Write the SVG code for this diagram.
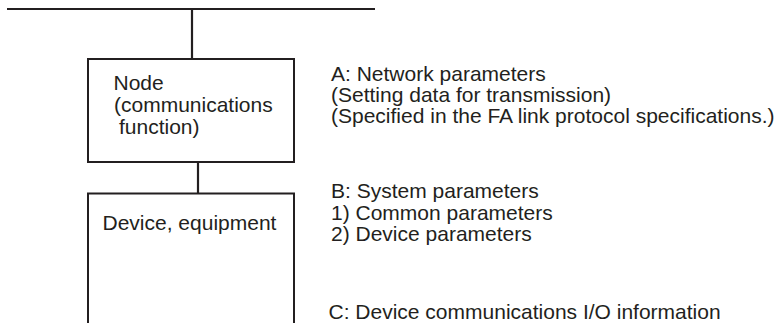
<svg xmlns="http://www.w3.org/2000/svg" width="781" height="323" viewBox="0 0 781 323">
  <style>
    .box { fill: #ffffff; stroke: #231f20; stroke-width: 2; }
    .wire { fill: none; stroke: #231f20; stroke-width: 2.2; }
    text { font-family: "Liberation Sans", Arial, sans-serif; font-size: 21px; fill: #231f20; }
  </style>
  <rect width="781" height="323" fill="#ffffff"/>
  <g id="connectors">
    <line class="wire" x1="7" y1="9" x2="375" y2="9"/>
    <line class="wire" x1="192" y1="9" x2="192" y2="60"/>
    <line class="wire" x1="198" y1="162" x2="198" y2="193"/>
  </g>
  <g id="node">
    <rect class="box" x="88" y="59" width="206" height="103"/>
    <text x="113.5" y="90">Node</text>
    <text x="114" y="112">(communications</text>
    <text x="119" y="134">function)</text>
  </g>
  <g id="device">
    <path class="box" d="M88,330 V193.5 H294 V330"/>
    <text x="102.5" y="230">Device, equipment</text>
  </g>
  <g id="label-a">
    <text x="331" y="81">A: Network parameters</text>
    <text x="331" y="102">(Setting data for transmission)</text>
    <text x="331" y="123">(Specified in the FA link protocol specifications.)</text>
  </g>
  <g id="label-b">
    <text x="331" y="198">B: System parameters</text>
    <text x="331" y="219.5">1) Common parameters</text>
    <text x="331" y="241">2) Device parameters</text>
  </g>
  <g id="label-c">
    <text x="328.5" y="319">C: Device communications I/O information</text>
  </g>
</svg>
